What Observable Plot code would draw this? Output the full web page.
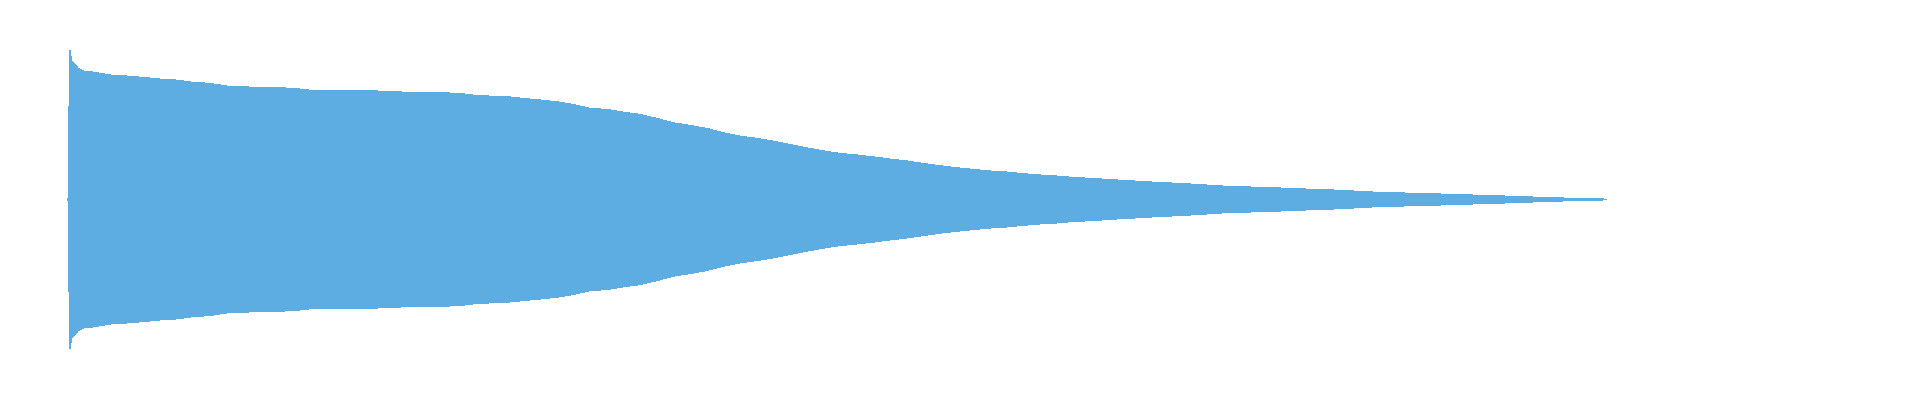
<!DOCTYPE html>
<html>
<head>
<meta charset="utf-8">
<script src="https://cdn.jsdelivr.net/npm/d3@7"></script>
<script src="https://cdn.jsdelivr.net/npm/@observablehq/plot@0.6"></script>
<style>
  html, body { margin: 0; padding: 0; background: #fff; }
  #chart svg { display: block; }
</style>
</head>
<body>
<div id="chart"></div>
<script>
const samples = [-2, -1, 0, 1, 3, 6, 9, 14, 24, 41, 58, 74, 91, 108, 124, 141, 158, 174, 191, 208, 224, 241, 258, 274, 291, 308, 324, 341, 358, 374, 391, 404, 421, 438, 454, 471, 488, 504, 521, 538, 554, 571, 588, 604, 621, 638, 654, 671, 688, 704, 721, 738, 754, 771, 788, 804, 821, 838, 854, 871, 888, 904, 921, 938, 954, 971, 988, 1004, 1021, 1038, 1054, 1071, 1088, 1104, 1121, 1138, 1154, 1171, 1204, 1238, 1271, 1304, 1338, 1371, 1404, 1438, 1471, 1504, 1537];
const peaks = [0.004, 0.004, 0.621, 1.0, 0.926, 0.906, 0.880, 0.860, 0.853, 0.833, 0.826, 0.817, 0.806, 0.799, 0.784, 0.777, 0.759, 0.755, 0.748, 0.748, 0.744, 0.732, 0.732, 0.726, 0.726, 0.726, 0.721, 0.717, 0.717, 0.714, 0.710, 0.699, 0.692, 0.688, 0.677, 0.666, 0.654, 0.637, 0.610, 0.603, 0.585, 0.570, 0.543, 0.514, 0.496, 0.476, 0.447, 0.425, 0.409, 0.391, 0.369, 0.346, 0.326, 0.309, 0.298, 0.286, 0.271, 0.258, 0.242, 0.226, 0.213, 0.202, 0.191, 0.184, 0.173, 0.164, 0.157, 0.148, 0.142, 0.135, 0.128, 0.122, 0.115, 0.110, 0.104, 0.097, 0.090, 0.086, 0.079, 0.070, 0.062, 0.050, 0.043, 0.037, 0.030, 0.023, 0.015, 0.008, 0.003];

const data = samples.map((s, i) => ({ s, peak: peaks[i] }));

const chart = Plot.plot({
  width: 1920,
  height: 400,
  marginLeft: 67,
  marginRight: 314,
  marginTop: 50,
  marginBottom: 51,
  x: { domain: [-2, 1537], axis: null },
  y: { domain: [-1, 1], axis: null },
  marks: [
    Plot.areaY(data, {
      x: "s",
      y1: d => -d.peak,
      y2: d => d.peak,
      fill: "#5dade2",
      stroke: "#5dade2",
      strokeWidth: 1,
      curve: "linear",
      shapeRendering: "crispEdges"
    })
  ]
});
document.getElementById("chart").appendChild(chart);
</script>
</body>
</html>
